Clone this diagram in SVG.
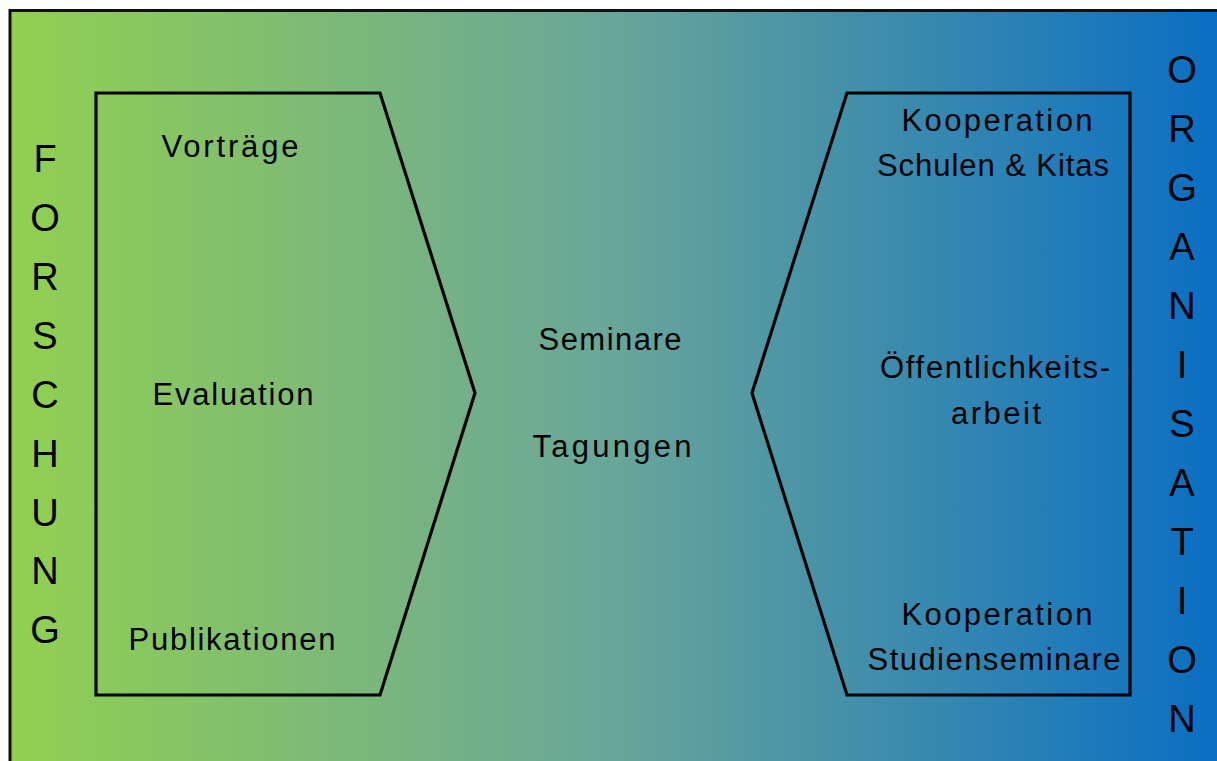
<svg xmlns="http://www.w3.org/2000/svg" width="1217" height="761" viewBox="0 0 1217 761">
<defs>
<linearGradient id="bg" x1="0" y1="0" x2="1" y2="0">
<stop offset="0" stop-color="#92D050"/>
<stop offset="0.5" stop-color="#69A69A"/>
<stop offset="1" stop-color="#0A6EC2"/>
</linearGradient>
</defs>
<style>
.shape{fill:none;stroke:#000;stroke-width:3.2;stroke-linejoin:miter}
.lbl{font-family:"Liberation Sans",Arial,sans-serif;font-size:31px;fill:#000;text-anchor:middle}
.vert{font-family:"Liberation Sans",Arial,sans-serif;font-size:38px;fill:#000;text-anchor:middle}
</style>
<rect x="0" y="0" width="1217" height="761" fill="#fff"/>
<rect x="9" y="10" width="1208" height="751" fill="url(#bg)"/>
<path d="M10,761 V10.5 H1217" fill="none" stroke="#111" stroke-width="3"/>

<g id="forschung-box">
<polygon class="shape" points="96,93 380,93 475,393 380,695 96,695"/>
<text class="lbl" x="230" y="157" textLength="137">Vorträge</text>
<text class="lbl" x="233" y="405" textLength="161">Evaluation</text>
<text class="lbl" x="232" y="650" textLength="207">Publikationen</text>
</g>

<g id="center">
<text class="lbl" x="610" y="350" textLength="143">Seminare</text>
<text class="lbl" x="612" y="457" textLength="159">Tagungen</text>
</g>

<g id="organisation-box">
<polygon class="shape" points="1130,93 847,93 752,393 847,695 1130,695"/>
<text class="lbl" x="997" y="131" textLength="191">Kooperation</text>
<text class="lbl" x="993" y="176" textLength="232">Schulen &amp; Kitas</text>
<text class="lbl" x="995" y="378" textLength="230">Öffentlichkeits-</text>
<text class="lbl" x="996" y="424" textLength="90">arbeit</text>
<text class="lbl" x="997" y="625" textLength="191">Kooperation</text>
<text class="lbl" x="994" y="670" textLength="253">Studienseminare</text>
</g>

<g id="forschung-label">
<text class="vert" x="45" y="172">F</text>
<text class="vert" x="45" y="231">O</text>
<text class="vert" x="45" y="290">R</text>
<text class="vert" x="45" y="349">S</text>
<text class="vert" x="45" y="408">C</text>
<text class="vert" x="45" y="467">H</text>
<text class="vert" x="45" y="526">U</text>
<text class="vert" x="45" y="584">N</text>
<text class="vert" x="45" y="643">G</text>
</g>

<g id="organisation-label">
<text class="vert" x="1182" y="83">O</text>
<text class="vert" x="1182" y="142">R</text>
<text class="vert" x="1182" y="201">G</text>
<text class="vert" x="1182" y="260">A</text>
<text class="vert" x="1182" y="319">N</text>
<text class="vert" x="1182" y="378">I</text>
<text class="vert" x="1182" y="437">S</text>
<text class="vert" x="1182" y="496">A</text>
<text class="vert" x="1182" y="555">T</text>
<text class="vert" x="1182" y="614">I</text>
<text class="vert" x="1182" y="673">O</text>
<text class="vert" x="1182" y="732">N</text>
</g>
</svg>
